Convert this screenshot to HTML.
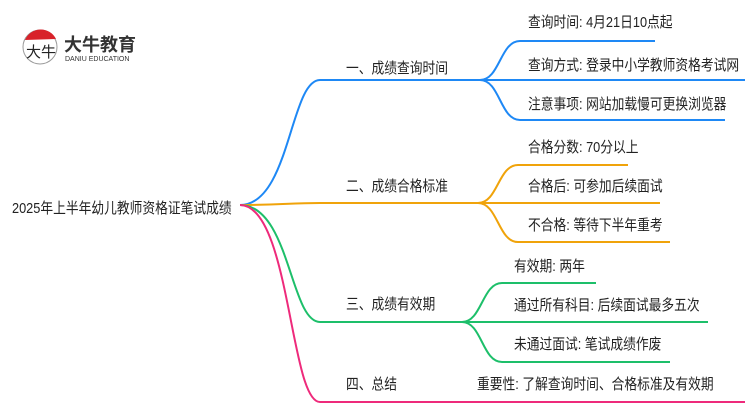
<!DOCTYPE html>
<html><head><meta charset="utf-8"><style>
body{margin:0;width:750px;height:410px;background:#fff;overflow:hidden;position:relative;font-family:"Liberation Sans","Noto Sans CJK SC",sans-serif;color:#222}
.t{position:absolute;font-size:15px;white-space:nowrap;line-height:18px;transform:scaleX(0.85);transform-origin:0 0}
</style></head><body>
<svg width="750" height="410" style="position:absolute;left:0;top:0" fill="none" stroke-width="2">
<g stroke="#1e88f5">
<path d="M240 205 C290 205 290 80 320 80 L480 80"/>
<path d="M480 80 C500 80 500 41 520 41 L655 41"/>
<path d="M480 80 L745 80"/>
<path d="M480 80 C500 80 500 120 520 120 L725 120"/>
</g>
<g stroke="#f0a30a">
<path d="M240 205 C280 205 290 203 320 203 L478 203"/>
<path d="M478 203 C498 203 498 165 518 165 L628 165"/>
<path d="M478 203 L660 203"/>
<path d="M478 203 C498 203 498 242 518 242 L670 242"/>
</g>
<g stroke="#1dbf6a">
<path d="M240 205 C290 205 290 322 320 322 L462 322"/>
<path d="M462 322 C482 322 482 283 502 283 L596 283"/>
<path d="M462 322 L708 322"/>
<path d="M462 322 C482 322 482 362 502 362 L670 362"/>
</g>
<path stroke="#ee2a7b" d="M240 205 C290 205 290 402 320 402 L745 402"/>
</svg>
<svg width="50" height="50" style="position:absolute;left:20px;top:27px">
<circle cx="20" cy="20" r="17" fill="#fff" stroke="#999" stroke-width="1"/>
<path d="M5 13 A17 17 0 0 1 36 12 Z" fill="#d8222a"/>
<text x="6" y="30" font-size="15" fill="#222" font-family="Noto Sans CJK SC">大牛</text>
</svg>
<div class="t" style="left:64px;top:35px;font-size:18px;line-height:20px;font-weight:bold;color:#333;transform:none">大牛教育</div>
<div class="t" style="left:65px;top:56px;font-size:7px;line-height:8px;color:#333;transform:none">DANIU EDUCATION</div>
<div class="t" style="left:12px;top:200px">2025年上半年幼儿教师资格证笔试成绩</div>
<div class="t" style="left:346px;top:60px">一、成绩查询时间</div>
<div class="t" style="left:346px;top:178px">二、成绩合格标准</div>
<div class="t" style="left:346px;top:296px">三、成绩有效期</div>
<div class="t" style="left:346px;top:376px">四、总结</div>
<div class="t" style="left:528px;top:14px">查询时间: 4月21日10点起</div>
<div class="t" style="left:528px;top:57px">查询方式: 登录中小学教师资格考试网</div>
<div class="t" style="left:528px;top:96px">注意事项: 网站加载慢可更换浏览器</div>
<div class="t" style="left:528px;top:139px">合格分数: 70分以上</div>
<div class="t" style="left:528px;top:178px">合格后: 可参加后续面试</div>
<div class="t" style="left:528px;top:217px">不合格: 等待下半年重考</div>
<div class="t" style="left:514px;top:258px">有效期: 两年</div>
<div class="t" style="left:514px;top:297px">通过所有科目: 后续面试最多五次</div>
<div class="t" style="left:514px;top:336px">未通过面试: 笔试成绩作废</div>
<div class="t" style="left:477px;top:376px">重要性: 了解查询时间、合格标准及有效期</div>
</body></html>
